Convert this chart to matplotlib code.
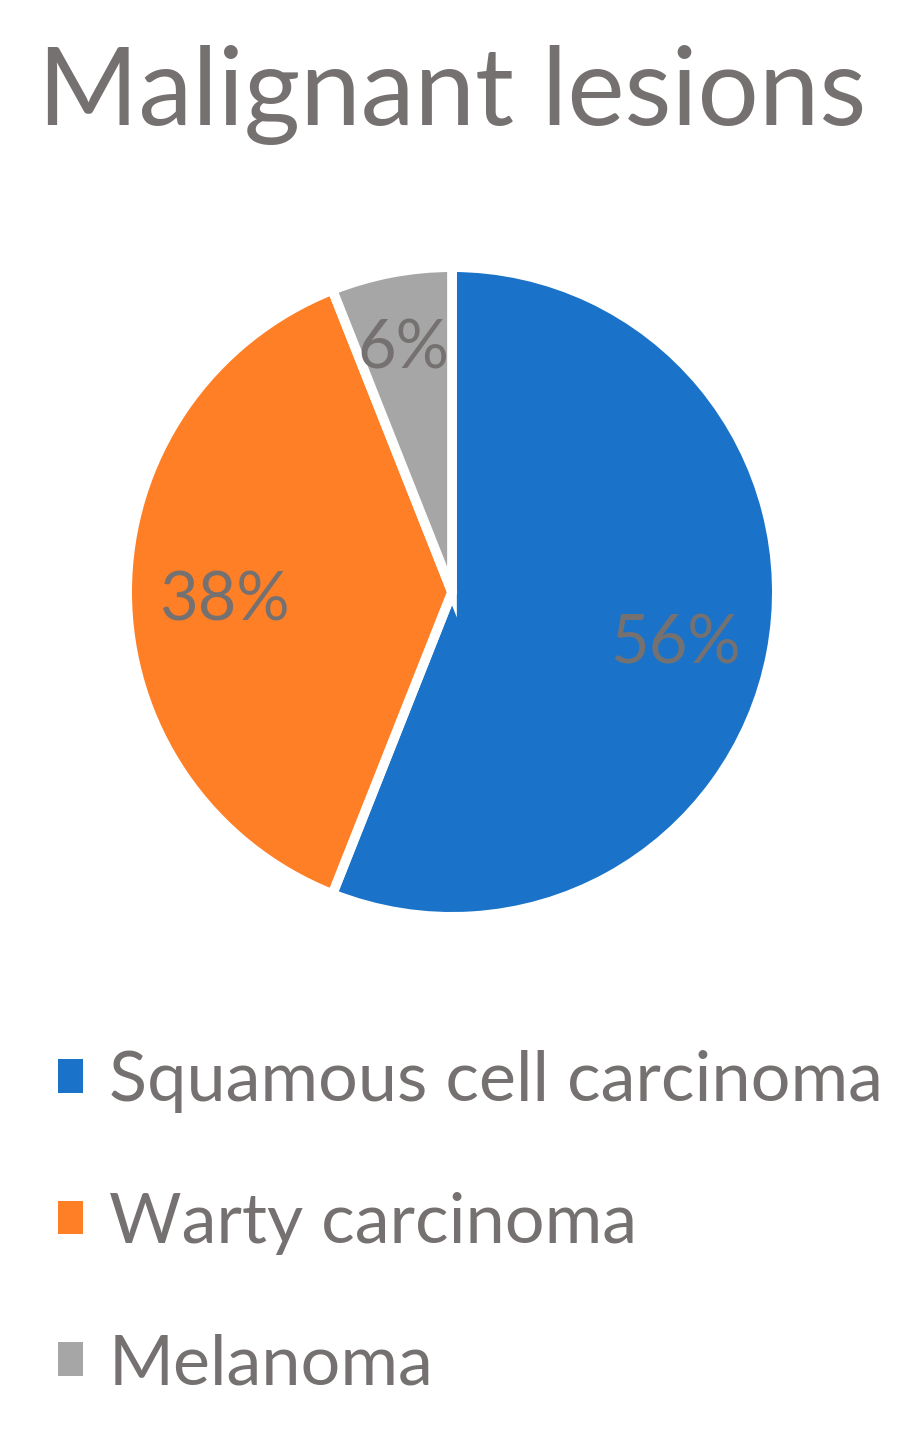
import matplotlib
matplotlib.use("Agg")
import matplotlib.pyplot as plt
from matplotlib.patches import Patch

# data
labels = ['Squamous cell carcinoma', 'Warty carcinoma', 'Melanoma']
shares = [56, 38, 6]
colors = ['#1A73C8', '#FF7F27', '#A6A6A6']
text_color = '#767171'

plt.rcParams['font.family'] = ['Lato', 'DejaVu Sans']

fig = plt.figure(figsize=(9.18, 14.3), dpi=100)

# pie axes: square box, centre at about (452, 592) px
ax = fig.add_axes([132 / 918, (1430 - 912) / 1430, 640 / 918, 640 / 1430])
wedges, texts, autotexts = ax.pie(
    shares, colors=colors, startangle=90, counterclock=False,
    autopct='%d%%', pctdistance=0.7,
    wedgeprops=dict(edgecolor='white', linewidth=7),
    textprops=dict(color=text_color, fontsize=48))
# nudge labels a little, like the reference
for t, dy in zip(autotexts, [-0.03, -0.03, 0.06]):
    x, y = t.get_position()
    t.set_position((x - (0.02 if dy > 0 else 0), y + dy))
ax.set_xlim(-0.985, 0.985)
ax.set_ylim(-0.985, 0.985)
ax.set_aspect('equal')
ax.axis('off')

fig.text(452 / 918, 1 - 95 / 1430, 'Malignant lesions', ha='center', va='center',
         fontsize=78, color=text_color)

handles = [Patch(facecolor=c, edgecolor='none') for c in colors]
fig.legend(handles, labels, loc='upper left', bbox_to_anchor=(30 / 918, 1 - 1022 / 1430),
           frameon=False, fontsize=50.5, labelcolor=text_color,
           handlelength=0.36, handleheight=0.36, handletextpad=0.36,
           labelspacing=1.12, borderaxespad=0)

fig.savefig('out.png', dpi=100)
